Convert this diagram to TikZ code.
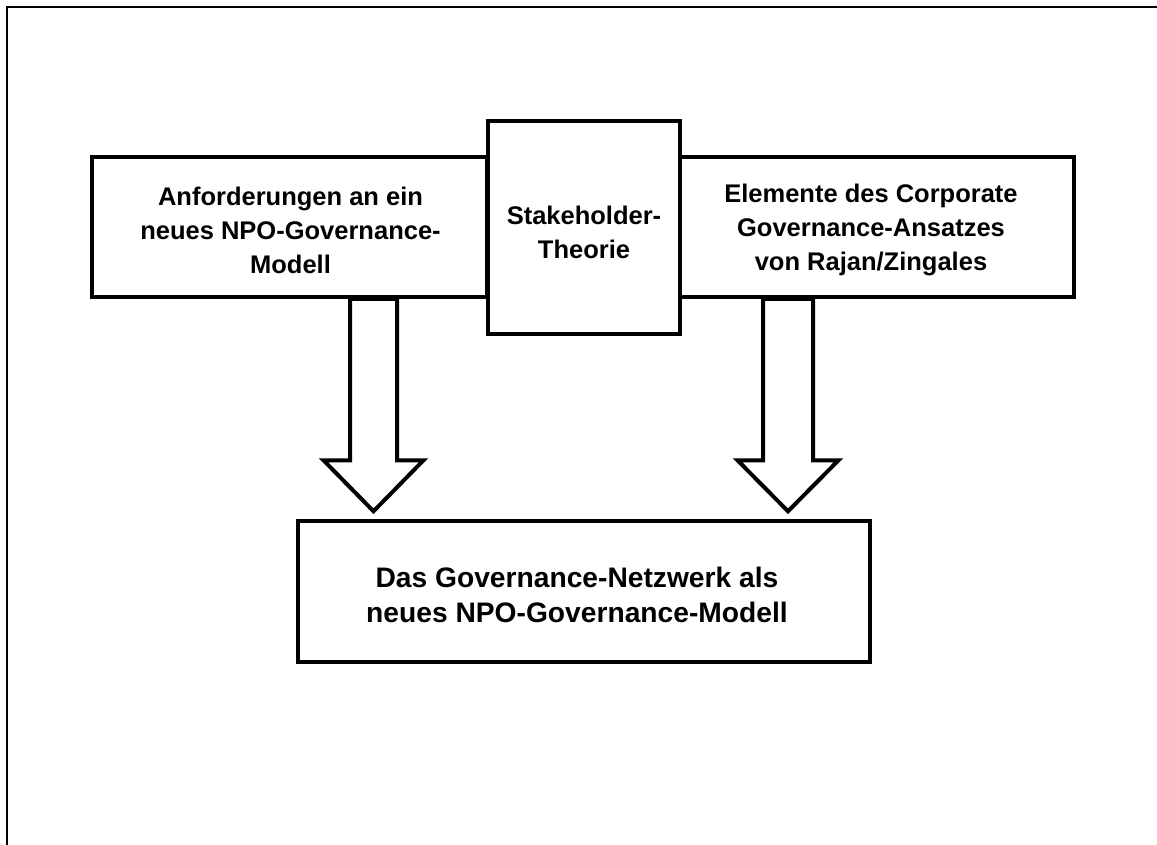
\documentclass[tikz,border=0pt]{standalone}
\usepackage{fontspec}
\setmainfont{Liberation Sans}
\usetikzlibrary{calc}
\tikzset{
  box/.style={draw, line width=3.5pt, fill=white, inner sep=0pt},
  boxtext/.style={inner sep=0pt, align=center,
    font=\fontsize{25.5}{34}\selectfont\bfseries},
  bigtext/.style={boxtext, font=\fontsize{28.2}{35}\selectfont\bfseries},
  frameline/.style={line width=2.2pt},
  fatarrow/.style={draw, fill=white, line width=4pt, line join=miter},
}
\newcommand{\blockarrow}[4]{% start, tip, shaft half width, head half width
  \draw[fatarrow] ($(#1)+(-#3,0)$) -- ($(#2)+(-#3,-51)$) -- ($(#2)+(-#4,-51)$)
    -- (#2) -- ($(#2)+(#4,-51)$) -- ($(#2)+(#3,-51)$) -- ($(#1)+(#3,0)$) -- cycle;}
\begin{document}
\begin{tikzpicture}[x=1pt,y=-1pt]
\useasboundingbox (0,0) rectangle (1157,844);
% open frame: top and left edges only
\draw[frameline] (7,846) -- (7,7) -- (1159,7);

% upper row
\node[box, minimum width=395pt, minimum height=140pt] (req) at (289.5,227) {};
\node[boxtext] (reqtext) at ($(req.center)+(1,3)$)
  {Anforderungen an ein\\neues NPO-Governance-\\Modell};
\node[box, minimum width=406pt, minimum height=140pt] (rz) at (871,227) {};
\node[boxtext] (rztext) at ($(rz.center)+(0,3)$)
  {Elemente des Corporate\\Governance-Ansatzes\\von Rajan/Zingales};
\node[box, minimum width=192pt, minimum height=213pt] (sh) at (584,227.5) {};
\node[boxtext] (shtext) at ($(sh.center)+(0,5)$) {Stakeholder-\\Theorie};

% result
\node[box, minimum width=572pt, minimum height=141pt] (net) at (584,591.5) {};
\node[bigtext] (nettext) at ($(net.center)+(-7,3)$)
  {Das Governance-Netzwerk als\\neues NPO-Governance-Modell};

% block arrows from the upper boxes to the result
\coordinate (a1) at ($(req.south)+(84,0)$);
\coordinate (t1) at ($(net.north)+(-210.5,-8)$);
\coordinate (a2) at ($(rz.south)+(-83,0)$);
\coordinate (t2) at ($(net.north)+(204,-8)$);
\blockarrow{a1}{t1}{23.5}{50}
\blockarrow{a2}{t2}{25}{50.5}
\end{tikzpicture}
\end{document}
